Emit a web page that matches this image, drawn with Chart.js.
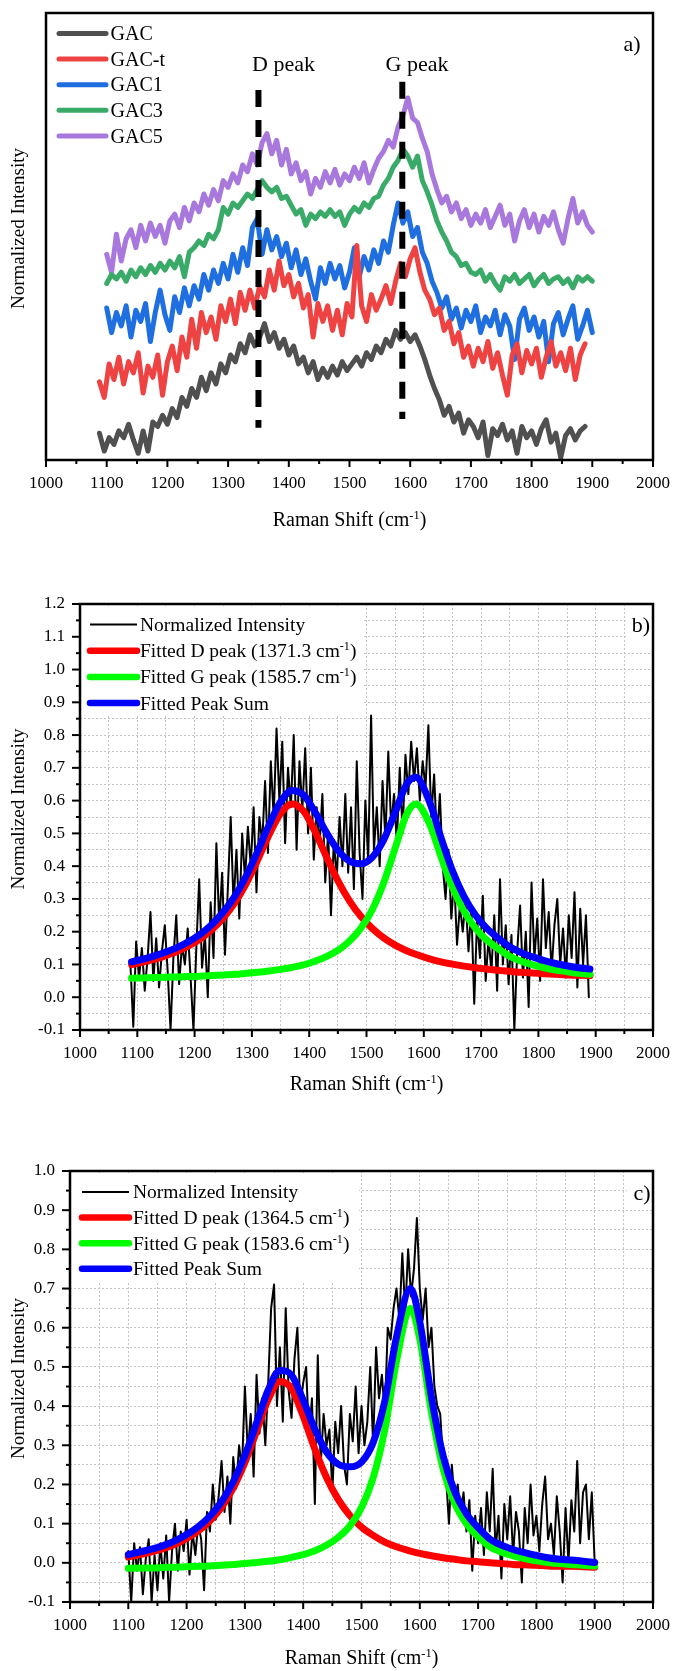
<!DOCTYPE html>
<html>
<head>
<meta charset="utf-8">
<script src="https://cdn.jsdelivr.net/npm/chart.js@4.4.1/dist/chart.umd.min.js"></script>
<style>
  html, body { margin: 0; padding: 0; background: #fff; }
  #wrap { position: relative; width: 683px; height: 1671px; }
  #wrap canvas { position: absolute; left: 0; }
</style>
</head>
<body>
<div id="wrap">
  <canvas id="chart-a" width="683" height="550" style="top:0px"></canvas>
  <canvas id="chart-b" width="683" height="560" style="top:550px"></canvas>
  <canvas id="chart-c" width="683" height="561" style="top:1110px"></canvas>
</div>
<script>
// ---- panel a: stacked spectra (arbitrary offset units, 0-100 over the frame) ----
const ramanA1 = [1088,1096,1104,1112,1120,1128,1136,1144,1152,1160,
  1168,1176,1184,1192,1200,1208,1216,1224,1232,1240,
  1248,1256,1264,1272,1280,1288,1296,1304,1312,1320,
  1328,1336,1344,1352,1360,1368,1376,1384,1392,1400,
  1408,1416,1424,1432,1440,1448,1456,1464,1472,1480,
  1488,1496,1504,1512,1520,1528,1536,1544,1552,1560,
  1568,1576,1584,1592,1600,1608,1616,1624,1632,1640,
  1648,1656,1664,1672,1680,1688,1696,1704,1712,1720,
  1728,1736,1744,1752,1760,1768,1776,1784,1792,1800,
  1808,1816,1824,1832,1840,1848,1856,1864,1872,1880,
  1888];
const ramanA2 = [1100,1108,1116,1124,1132,1140,1148,1156,1164,1172,
  1180,1188,1196,1204,1212,1220,1228,1236,1244,1252,
  1260,1268,1276,1284,1292,1300,1308,1316,1324,1332,
  1340,1348,1356,1364,1372,1380,1388,1396,1404,1412,
  1420,1428,1436,1444,1452,1460,1468,1476,1484,1492,
  1500,1508,1516,1524,1532,1540,1548,1556,1564,1572,
  1580,1588,1596,1604,1612,1620,1628,1636,1644,1652,
  1660,1668,1676,1684,1692,1700,1708,1716,1724,1732,
  1740,1748,1756,1764,1772,1780,1788,1796,1804,1812,
  1820,1828,1836,1844,1852,1860,1868,1876,1884,1892,
  1900];

const gac = [6.0,2.0,5.0,3.5,6.5,5.0,8.0,4.5,1.5,6.5,
  2.0,8.5,7.5,10.0,8.0,11.5,9.5,14.0,12.0,16.0,
  14.0,18.5,15.5,19.5,17.0,21.5,19.5,23.5,22.0,26.0,
  24.0,28.0,25.5,27.5,30.5,26.5,28.5,25.0,27.0,23.5,
  25.5,21.5,23.0,19.5,22.0,18.0,20.5,18.5,21.0,19.0,
  22.0,20.0,21.5,23.0,21.0,24.0,22.5,25.5,24.0,27.0,
  25.5,29.0,27.0,28.5,26.5,28.0,25.5,22.5,19.0,16.0,
  13.5,10.0,12.0,8.5,10.5,6.0,9.0,7.5,5.0,8.5,
  1.0,7.0,5.5,8.0,4.5,6.5,1.5,7.5,5.0,6.5,
  3.5,7.0,9.0,4.0,6.0,0.5,5.5,7.0,4.5,6.5,
  7.5];
const gacT = [17.5,14.0,21.5,18.0,23.0,17.0,22.0,19.5,24.0,15.0,
  21.0,18.5,23.5,14.5,22.0,25.5,20.0,27.5,23.0,31.5,
  25.0,33.0,28.5,32.0,27.0,34.5,31.0,36.0,30.5,37.5,
  33.5,38.0,34.0,39.0,36.5,42.5,38.0,44.5,39.0,41.5,
  36.5,39.5,34.0,37.0,27.5,35.0,31.0,34.5,29.0,33.5,
  28.0,35.0,32.0,48.0,34.5,31.0,37.0,33.5,36.0,39.0,
  35.0,40.0,44.0,41.0,45.0,47.5,42.0,38.0,36.0,32.5,
  34.0,29.0,31.0,26.0,28.5,23.0,25.5,21.0,25.0,22.0,
  26.5,20.5,24.0,19.0,14.5,23.5,26.0,19.5,24.5,21.5,
  25.0,18.5,23.0,26.5,21.0,24.0,20.0,25.0,18.0,23.5,
  26.0];
const gac1 = [34.0,28.5,33.0,30.0,34.5,27.5,33.5,31.0,35.0,26.5,
  33.0,38.0,32.5,29.0,36.5,33.0,38.5,34.5,39.0,36.0,
  41.5,38.0,42.5,39.5,44.0,40.5,46.0,42.0,47.5,43.5,
  52.0,54.0,46.0,51.5,47.0,50.0,45.5,48.5,43.0,47.0,
  41.5,45.0,40.0,36.0,43.0,39.5,44.0,40.5,43.5,38.5,
  42.0,47.5,41.0,45.5,42.5,47.0,44.0,49.0,46.5,52.5,
  57.5,53.0,55.5,50.0,52.0,46.5,44.0,40.0,37.5,34.0,
  36.5,31.5,34.0,29.5,33.5,31.0,34.5,28.5,32.0,30.0,
  33.5,28.0,32.5,30.0,22.5,31.5,34.0,29.0,32.0,27.5,
  31.0,22.0,30.5,33.0,28.0,31.5,34.5,27.0,30.0,33.5,
  28.5];
const gac3 = [39.5,41.5,40.5,42.0,40.0,42.5,41.0,43.0,41.5,43.5,
  42.0,44.0,42.5,44.5,43.0,45.5,41.0,46.5,47.5,49.0,
  48.0,50.5,49.5,51.5,56.5,55.0,57.5,56.5,58.0,59.5,
  58.5,60.5,62.5,61.0,60.0,61.0,58.5,59.0,57.0,55.0,
  56.0,52.5,55.0,54.0,55.5,54.5,56.0,54.5,55.5,52.5,
  55.0,56.5,55.5,57.5,56.5,58.5,59.0,61.5,63.0,65.5,
  67.0,69.5,68.0,65.5,68.0,62.5,60.0,57.0,53.5,51.0,
  49.0,46.5,45.5,43.5,44.0,42.0,41.5,42.5,40.0,41.5,
  39.5,38.0,41.0,40.0,41.5,39.5,40.5,41.5,39.0,40.5,
  41.5,39.5,40.5,41.0,39.5,40.5,38.5,41.0,40.0,41.0,
  40.0];
const gac5 = [46.0,42.0,50.5,44.5,49.5,51.5,47.5,52.5,49.0,53.0,
  50.0,52.5,48.5,53.5,55.0,52.0,56.5,53.5,57.5,55.5,
  59.5,57.0,60.5,58.0,62.5,61.0,64.0,62.0,66.0,64.5,
  68.5,66.0,71.0,73.0,68.5,71.5,66.0,69.5,64.0,66.5,
  62.5,64.5,59.5,63.0,61.0,64.5,62.0,65.0,61.5,64.0,
  62.5,65.5,63.0,66.5,62.0,65.0,67.5,69.0,71.5,70.0,
  74.5,77.0,81.0,76.5,75.5,72.0,69.0,64.0,60.5,57.5,
  59.0,55.5,57.5,54.0,56.0,52.5,55.0,53.0,56.0,52.0,
  54.5,57.0,52.5,55.0,49.0,53.5,56.0,52.0,55.0,51.0,
  54.5,52.5,55.5,51.5,48.5,54.0,58.5,53.0,55.5,52.5,
  51.0];

// dashed peak markers
const dPeakX = [1350, 1350];
const dPeakY = [82.8, 7.2];
const gPeakX = [1587, 1587];
const gPeakY = [84.6, 9.2];

// ---- panel b ----
const ramanB = [1088,1093,1098,1103,1108,1113,1118,1123,1128,1133,
  1138,1143,1148,1153,1158,1163,1168,1173,1178,1183,
  1188,1193,1198,1203,1208,1213,1218,1223,1228,1233,
  1238,1243,1248,1253,1258,1263,1268,1273,1278,1283,
  1288,1293,1298,1303,1308,1313,1318,1323,1328,1333,
  1338,1343,1348,1353,1358,1363,1368,1373,1378,1383,
  1388,1393,1398,1403,1408,1413,1418,1423,1428,1433,
  1438,1443,1448,1453,1458,1463,1468,1473,1478,1483,
  1488,1493,1498,1503,1508,1513,1518,1523,1528,1533,
  1538,1543,1548,1553,1558,1563,1568,1573,1578,1583,
  1588,1593,1598,1603,1608,1613,1618,1623,1628,1633,
  1638,1643,1648,1653,1658,1663,1668,1673,1678,1683,
  1688,1693,1698,1703,1708,1713,1718,1723,1728,1733,
  1738,1743,1748,1753,1758,1763,1768,1773,1778,1783,
  1788,1793,1798,1803,1808,1813,1818,1823,1828,1833,
  1838,1843,1848,1853,1858,1863,1868,1873,1878,1883,
  1888];
const intensityB = [0.10,-0.09,0.17,0.06,0.15,0.02,0.12,0.26,0.05,0.18,
  0.03,0.14,0.22,0.08,-0.10,0.12,0.25,0.04,0.16,0.10,
  0.21,0.06,-0.10,0.15,0.36,0.09,0.19,0.00,0.29,0.12,
  0.47,0.22,0.38,0.13,0.33,0.55,0.28,0.45,0.24,0.50,
  0.36,0.52,0.40,0.58,0.32,0.55,0.47,0.66,0.44,0.72,
  0.55,0.82,0.60,0.78,0.47,0.70,0.58,0.80,0.45,0.72,
  0.57,0.76,0.50,0.70,0.42,0.58,0.46,0.62,0.35,0.50,
  0.25,0.48,0.36,0.55,0.40,0.62,0.38,0.58,0.33,0.72,
  0.44,0.30,0.60,0.42,0.86,0.45,0.58,0.40,0.66,0.48,
  0.75,0.52,0.62,0.47,0.70,0.50,0.74,0.62,0.78,0.66,
  0.76,0.60,0.72,0.64,0.83,0.55,0.68,0.48,0.62,0.40,
  0.30,0.45,0.24,0.36,0.16,0.28,0.20,0.30,0.14,0.27,
  -0.02,0.24,0.12,0.31,0.05,0.18,0.08,0.25,0.02,0.36,
  0.10,0.22,0.04,0.19,-0.10,0.14,0.28,0.06,0.20,-0.03,
  0.35,0.12,0.24,0.05,0.36,0.15,0.26,0.08,0.22,0.30,
  0.10,0.21,0.06,0.25,0.12,0.32,0.03,0.27,0.10,0.25,
  0.00];
const fitXB = [1090,1110,1130,1150,1170,1190,1210,1230,1250,1270,
  1290,1310,1330,1350,1370,1390,1410,1430,1450,1470,
  1490,1510,1530,1550,1570,1586,1610,1630,1650,1670,
  1690,1710,1730,1750,1770,1790,1810,1830,1850,1870,1890];
const dFitB = [0.100,0.107,0.116,0.127,0.140,0.157,0.178,0.206,0.242,0.288,
  0.347,0.419,0.496,0.561,0.590,0.568,0.506,0.429,0.356,0.295,
  0.247,0.210,0.181,0.159,0.142,0.131,0.117,0.108,0.101,0.095,
  0.090,0.086,0.082,0.079,0.076,0.074,0.072,0.070,0.068,0.067,0.066];
const gFitB = [0.058,0.059,0.060,0.061,0.062,0.063,0.064,0.066,0.068,0.070,
  0.073,0.076,0.080,0.085,0.091,0.099,0.110,0.124,0.143,0.171,
  0.210,0.267,0.349,0.455,0.558,0.590,0.529,0.429,0.335,0.263,
  0.211,0.174,0.148,0.125,0.110,0.099,0.090,0.083,0.078,0.073,0.070];
const sumFitB = [0.108,0.116,0.126,0.138,0.152,0.170,0.192,0.222,0.260,0.308,
  0.370,0.445,0.526,0.596,0.631,0.617,0.566,0.503,0.449,0.416,
  0.407,0.427,0.480,0.564,0.650,0.671,0.596,0.487,0.386,0.308,
  0.251,0.210,0.180,0.154,0.136,0.123,0.112,0.103,0.096,0.090,0.086];

// ---- panel c ----
const ramanC = [1100,1105,1110,1115,1120,1125,1130,1135,1140,1145,
  1150,1155,1160,1165,1170,1175,1180,1185,1190,1195,
  1200,1205,1210,1215,1220,1225,1230,1235,1240,1245,
  1250,1255,1260,1265,1270,1275,1280,1285,1290,1295,
  1300,1305,1310,1315,1320,1325,1330,1335,1340,1345,
  1350,1355,1360,1365,1370,1375,1380,1385,1390,1395,
  1400,1405,1410,1415,1420,1425,1430,1435,1440,1445,
  1450,1455,1460,1465,1470,1475,1480,1485,1490,1495,
  1500,1505,1510,1515,1520,1525,1530,1535,1540,1545,
  1550,1555,1560,1565,1570,1575,1580,1585,1590,1595,
  1600,1605,1610,1615,1620,1625,1630,1635,1640,1645,
  1650,1655,1660,1665,1670,1675,1680,1685,1690,1695,
  1700,1705,1710,1715,1720,1725,1730,1735,1740,1745,
  1750,1755,1760,1765,1770,1775,1780,1785,1790,1795,
  1800,1805,1810,1815,1820,1825,1830,1835,1840,1845,
  1850,1855,1860,1865,1870,1875,1880,1885,1890,1895,
  1900];
const intensityC = [0.03,-0.10,0.05,-0.02,0.04,-0.08,0.01,0.06,-0.10,0.02,
  -0.07,0.05,-0.04,0.07,-0.10,0.03,0.10,-0.02,0.08,0.03,
  0.11,-0.03,0.08,0.02,0.10,0.06,-0.07,0.13,0.08,0.20,
  0.11,0.17,0.26,0.13,0.22,0.10,0.27,0.19,0.30,0.24,
  0.45,0.28,0.38,0.22,0.48,0.33,0.42,0.30,0.46,0.65,
  0.71,0.40,0.55,0.36,0.65,0.44,0.37,0.52,0.60,0.40,
  0.46,0.50,0.32,0.42,0.15,0.53,0.25,0.38,0.30,0.34,
  0.18,0.36,0.28,0.40,0.25,0.20,0.38,0.31,0.45,0.28,
  0.40,0.30,0.36,0.50,0.30,0.55,0.42,0.48,0.38,0.60,
  0.57,0.65,0.70,0.62,0.79,0.64,0.80,0.68,0.75,0.88,
  0.70,0.62,0.70,0.55,0.60,0.45,0.40,0.38,0.26,0.22,
  0.10,0.25,0.15,0.20,0.12,0.18,0.08,0.16,-0.02,0.12,
  0.05,0.14,0.02,0.18,0.08,0.24,0.03,0.12,-0.04,0.15,
  0.06,0.17,0.02,0.13,0.08,-0.05,0.14,0.05,0.20,0.07,
  0.12,0.03,0.15,0.22,0.06,0.10,0.02,0.17,0.08,-0.05,
  0.14,0.00,0.16,0.08,0.26,0.05,0.18,0.20,0.06,0.18,
  0.00];
const fitXC = [1100,1120,1140,1160,1180,1200,1220,1240,1260,1280,
  1300,1320,1340,1360,1380,1400,1420,1440,1460,1480,
  1500,1520,1540,1560,1584,1600,1620,1640,1660,1680,
  1700,1720,1740,1760,1780,1800,1820,1840,1860,1880,1900];
const dFitC = [0.015,0.021,0.028,0.036,0.047,0.062,0.081,0.107,0.142,0.191,
  0.256,0.336,0.417,0.463,0.445,0.374,0.290,0.218,0.162,0.121,
  0.091,0.070,0.053,0.041,0.030,0.024,0.018,0.013,0.009,0.005,
  0.003,0.000,-0.002,-0.004,-0.005,-0.006,-0.008,-0.009,-0.009,-0.010,-0.011];
const gFitC = [-0.014,-0.013,-0.013,-0.012,-0.011,-0.010,-0.009,-0.008,-0.006,-0.004,
  -0.002,0.001,0.004,0.008,0.014,0.021,0.031,0.045,0.065,0.094,
  0.141,0.217,0.340,0.515,0.650,0.571,0.385,0.240,0.152,0.100,
  0.067,0.041,0.027,0.018,0.011,0.005,0.001,-0.002,-0.004,-0.006,-0.008];
const sumFitC = [0.021,0.028,0.035,0.044,0.056,0.072,0.092,0.119,0.156,0.207,
  0.274,0.357,0.441,0.491,0.479,0.415,0.341,0.283,0.252,0.245,
  0.257,0.307,0.413,0.576,0.700,0.615,0.423,0.273,0.181,0.125,
  0.090,0.061,0.045,0.034,0.026,0.019,0.013,0.009,0.007,0.004,0.001];

const serif = '"Liberation Serif", "Times New Roman", Times, serif';

function pts(xs, ys) {
  return xs.map((x, i) => ({ x, y: ys[i] }));
}

// text with ^{..} superscripts, y = baseline
function richText(ctx, text, x, y, size, align) {
  const parts = [];
  text.split(/(\^\{[^}]*\})/).forEach(s => {
    if (!s) return;
    if (s.startsWith('^{')) parts.push({ t: s.slice(2, -1), sup: true });
    else parts.push({ t: s, sup: false });
  });
  let total = 0;
  parts.forEach(p => {
    ctx.font = `${p.sup ? size * 0.62 : size}px ${serif}`;
    p.w = ctx.measureText(p.t).width;
    total += p.w;
  });
  let cx = align === 'center' ? x - total / 2 : x;
  ctx.textAlign = 'left';
  ctx.textBaseline = 'alphabetic';
  parts.forEach(p => {
    ctx.font = `${p.sup ? size * 0.62 : size}px ${serif}`;
    ctx.fillText(p.t, cx, p.sup ? y - size * 0.36 : y);
    cx += p.w;
  });
}

const decorPlugin = {
  id: 'decor',
  beforeDatasetsDraw(chart, args, opts) {
    const ctx = chart.ctx;
    ctx.save();
    ctx.fillStyle = '#fff';
    (opts.boxes || []).forEach(b => ctx.fillRect(b[0], b[1], b[2], b[3]));
    ctx.restore();
  },
  afterDatasetsDraw(chart, args, opts) {
    const { ctx, chartArea: a, scales } = chart;
    ctx.save();
    ctx.strokeStyle = '#000';
    ctx.fillStyle = '#000';
    ctx.lineWidth = 2;
    ctx.lineCap = 'butt';
    scales.x.ticks.forEach(t => {
      const px = scales.x.getPixelForValue(t.value);
      const len = t.label ? 7 : 4;
      ctx.beginPath();
      ctx.moveTo(px, a.bottom);
      ctx.lineTo(px, a.bottom + len);
      ctx.stroke();
    });
    if (opts.yTicks) {
      scales.y.ticks.forEach(t => {
        const py = scales.y.getPixelForValue(t.value);
        const len = t.label ? 8 : 4;
        ctx.beginPath();
        ctx.moveTo(a.left - len, py);
        ctx.lineTo(a.left, py);
        ctx.stroke();
      });
    }
    ctx.lineWidth = 2.5;
    ctx.strokeRect(a.left, a.top, a.right - a.left, a.bottom - a.top);

    const lg = opts.legend;
    lg.items.forEach((idx, i) => {
      const ds = chart.data.datasets[idx];
      const y = lg.y + i * lg.dy;
      ctx.strokeStyle = ds.borderColor;
      ctx.lineWidth = Math.min(ds.borderWidth, 6.5);
      ctx.lineCap = ds.borderWidth > 2 ? 'round' : 'butt';
      ctx.beginPath();
      ctx.moveTo(lg.x0, y);
      ctx.lineTo(lg.x1, y);
      ctx.stroke();
      ctx.fillStyle = '#000';
      richText(ctx, ds.label, lg.tx, y + lg.size * 0.33, lg.size, 'left');
    });

    ctx.fillStyle = '#000';
    (opts.notes || []).forEach(n => richText(ctx, n.text, n.x, n.y, n.size, 'center'));

    richText(ctx, opts.xTitle, (a.left + a.right) / 2, a.bottom + opts.xTitleDy, 20, 'center');
    ctx.translate(opts.yTitleX, (a.top + a.bottom) / 2 + opts.yTitleDy);
    ctx.rotate(-Math.PI / 2);
    richText(ctx, opts.yTitle, 0, 19 * 0.22, 19, 'center');
    ctx.restore();
  }
};

const tickFont = { family: serif, size: 17 };

function xScale(height, withGrid) {
  return {
    type: 'linear',
    min: 1000,
    max: 2000,
    ticks: {
      stepSize: 50,
      autoSkip: false,
      maxRotation: 0,
      padding: 13,
      color: '#000',
      font: tickFont,
      callback: v => (v % 100 === 0 ? String(v) : '')
    },
    grid: { display: withGrid, drawTicks: false, color: '#c4c4c4', lineWidth: 1 },
    border: { display: false, dash: [2, 2] },
    afterFit: s => { s.height = height; }
  };
}

function yScale(min, max, width) {
  return {
    type: 'linear',
    min,
    max,
    ticks: {
      stepSize: 0.05,
      autoSkip: false,
      padding: 15,
      color: '#000',
      font: tickFont,
      callback: v => {
        const r = Math.round(v * 100);
        if (r % 10 !== 0) return '';
        return r === 0 ? '0.0' : (r / 100).toFixed(1);
      }
    },
    grid: { display: true, drawTicks: false, color: '#c4c4c4', lineWidth: 1 },
    border: { display: false, dash: [2, 2] },
    afterFit: s => { s.width = width; }
  };
}

function spectrum(label, xs, ys, color, width) {
  return {
    label,
    data: pts(xs, ys),
    borderColor: color,
    borderWidth: width,
    pointRadius: 0,
    tension: 0,
    borderJoinStyle: 'round',
    borderCapStyle: 'round'
  };
}

function fitCurve(label, xs, ys, color) {
  return {
    label,
    data: pts(xs, ys),
    borderColor: color,
    borderWidth: 7,
    pointRadius: 0,
    cubicInterpolationMode: 'monotone',
    borderJoinStyle: 'round',
    borderCapStyle: 'round'
  };
}

function marker(xs, ys) {
  return {
    label: '',
    data: pts(xs, ys),
    borderColor: '#000',
    borderWidth: 6,
    borderDash: [17, 13],
    borderCapStyle: 'butt',
    pointRadius: 0
  };
}

const common = {
  responsive: false,
  animation: false,
  devicePixelRatio: 1,
  events: []
};

// panel a
new Chart(document.getElementById('chart-a'), {
  type: 'line',
  data: {
    datasets: [
      marker(dPeakX, dPeakY),
      marker(gPeakX, gPeakY),
      spectrum('GAC', ramanA1, gac, '#505050', 5),
      spectrum('GAC-t', ramanA1, gacT, '#ef4242', 5),
      spectrum('GAC1', ramanA2, gac1, '#1f6fe0', 5),
      spectrum('GAC3', ramanA2, gac3, '#3aaa68', 5),
      spectrum('GAC5', ramanA2, gac5, '#a878dd', 5)
    ]
  },
  options: {
    ...common,
    layout: { padding: { left: 0, right: 20, top: 13, bottom: 0 } },
    scales: {
      x: xScale(90, false),
      y: {
        type: 'linear', min: 0, max: 100,
        ticks: { display: false },
        grid: { display: false },
        border: { display: false },
        afterFit: s => { s.width = 46; }
      }
    },
    plugins: {
      legend: { display: false },
      tooltip: { enabled: false },
      decor: {
        legend: { items: [2, 3, 4, 5, 6], x0: 59, x1: 106, tx: 110.5, y: 33.5, dy: 25.6, size: 20 },
        notes: [
          { text: 'D peak', x: 283.5, y: 71, size: 22 },
          { text: 'G peak', x: 417, y: 71, size: 22 },
          { text: 'a)', x: 632, y: 51, size: 22 }
        ],
        xTitle: 'Raman Shift (cm^{-1})', xTitleDy: 66,
        yTitle: 'Normalized Intensity', yTitleX: 20, yTitleDy: -8
      }
    }
  },
  plugins: [decorPlugin]
});

// panel b
new Chart(document.getElementById('chart-b'), {
  type: 'line',
  data: {
    datasets: [
      fitCurve('Fitted Peak Sum', fitXB, sumFitB, '#0000ff'),
      fitCurve('Fitted G peak (1585.7 cm^{-1})', fitXB, gFitB, '#00ff00'),
      fitCurve('Fitted D peak (1371.3 cm^{-1})', fitXB, dFitB, '#ff0000'),
      spectrum('Normalized Intensity', ramanB, intensityB, '#000000', 2)
    ]
  },
  options: {
    ...common,
    layout: { padding: { left: 0, right: 20, top: 54, bottom: 0 } },
    scales: { x: xScale(80, true), y: yScale(-0.1, 1.2, 80) },
    plugins: {
      legend: { display: false },
      tooltip: { enabled: false },
      decor: {
        boxes: [[81, 56, 283, 110], [627, 63, 28, 28]],
        yTicks: true,
        legend: { items: [3, 2, 1, 0], x0: 90, x1: 137, tx: 140, y: 74.5, dy: 26.2, size: 19.5 },
        notes: [{ text: 'b)', x: 641, y: 82, size: 22 }],
        xTitle: 'Raman Shift (cm^{-1})', xTitleDy: 60,
        yTitle: 'Normalized Intensity', yTitleX: 20, yTitleDy: -8
      }
    }
  },
  plugins: [decorPlugin]
});

// panel c
new Chart(document.getElementById('chart-c'), {
  type: 'line',
  data: {
    datasets: [
      fitCurve('Fitted Peak Sum', fitXC, sumFitC, '#0000ff'),
      fitCurve('Fitted G peak (1583.6 cm^{-1})', fitXC, gFitC, '#00ff00'),
      fitCurve('Fitted D peak (1364.5 cm^{-1})', fitXC, dFitC, '#ff0000'),
      spectrum('Normalized Intensity', ramanC, intensityC, '#000000', 2)
    ]
  },
  options: {
    ...common,
    layout: { padding: { left: 0, right: 20, top: 61, bottom: 0 } },
    scales: { x: xScale(69, true), y: yScale(-0.1, 1.0, 70) },
    plugins: {
      legend: { display: false },
      tooltip: { enabled: false },
      decor: {
        boxes: [[71, 63, 288, 110], [627, 70, 28, 28]],
        yTicks: true,
        legend: { items: [3, 2, 1, 0], x0: 82, x1: 129, tx: 133, y: 82, dy: 25.6, size: 19.5 },
        notes: [{ text: 'c)', x: 642, y: 90, size: 22 }],
        xTitle: 'Raman Shift (cm^{-1})', xTitleDy: 62,
        yTitle: 'Normalized Intensity', yTitleX: 20, yTitleDy: -8
      }
    }
  },
  plugins: [decorPlugin]
});
</script>
</body>
</html>
